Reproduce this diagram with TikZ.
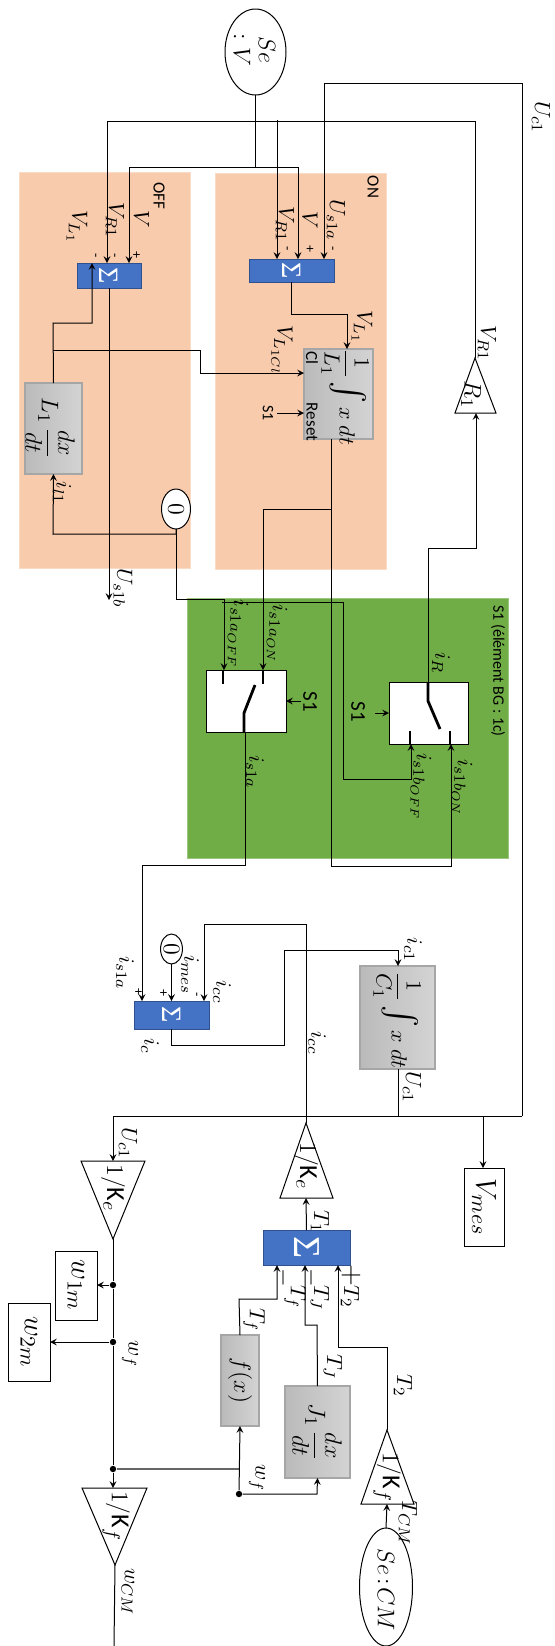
\documentclass[tikz,border=0pt]{standalone}
\usepackage{amsmath,amssymb}
\usepackage{graphicx}
\usepackage{fontspec}
\setmainfont{Carlito}
\newfontfamily\sumfont{Liberation Serif}
\usepackage{tikz}
\usetikzlibrary{shapes.geometric, arrows.meta, positioning, calc}
\definecolor{bloc}{HTML}{4472C4}
\definecolor{blocline}{HTML}{2F528F}
\definecolor{zone}{HTML}{F8CBAD}
\definecolor{zoneS}{HTML}{70AD47}
\DeclareMathSizes{11}{11}{8.5}{6.5}
\DeclareMathSizes{12}{12}{9}{7}
\DeclareMathSizes{13}{13}{10}{8}
\DeclareMathSizes{15}{15}{11}{9}
\newcommand{\fsz}[1]{\fontsize{#1}{#1}\selectfont}
\newcommand{\rt}[1]{\rotatebox{-90}{#1}}
\newcommand{\bigint}{\scalebox{1.5}{$\int$}}
\tikzset{
    lab/.style={rotate=-90, inner sep=0pt, font=\fsz{11}},
    sgn/.style={rotate=-90, inner sep=0pt, font=\fsz{7}},
    zonebox/.style={inner sep=0pt, outer sep=0pt, draw=#1!70!white, fill=#1, line width=0.4pt},
    sumbox/.style={draw=blocline, fill=bloc, inner sep=0pt, outer sep=0pt, text=white, font=\sumfont\fsz{14}, line width=0.4pt},
    grayblock/.style={draw=gray!70, left color=black!27, right color=black!17, inner sep=0pt, outer sep=0pt, line width=0.6pt, font=\fsz{12}},
    plainbox/.style={draw, fill=white, inner sep=0pt, outer sep=0pt, font=\fsz{15}},
    srcshape/.style={draw, ellipse, fill=white, inner sep=0pt, outer sep=0pt, font=\fsz{12}},
    junction/.style={circle, fill, inner sep=0pt, minimum size=3.2pt},
    blade/.style={line width=1.4pt}
}
\begin{document}
\begin{tikzpicture}[x=0.5pt, y=-0.5pt, >=stealth, line width=0.5pt]
    \useasboundingbox (0,0) rectangle (555,1646);
    % zones
    \node[zonebox=zone, minimum width=85.5pt, minimum height=198pt] (off) at (104.5,370) {};
    \node[zonebox=zone, minimum width=85.5pt, minimum height=198pt] (on) at (300.5,371) {};
    \node[zonebox=zoneS, minimum width=160.5pt, minimum height=130pt] (s1zone) at (347.5,728) {};
    \node[lab, font=\fsz{8.5}] (offtxt) at (159,196) {OFF};
    \node[lab, font=\fsz{8.5}] (ontxt) at (373,187) {ON};
    \node[lab, font=\fsz{8}] (s1txt) at (498,671) {S1 (élément BG : 1c)};
    % sources and blocks
    \node[srcshape, minimum width=30.5pt, minimum height=43pt] (se) at (255.5,52) {};
    \node[lab, font=\fsz{13}] (setxt) at (267,50) {$Se$};
    \node[lab, font=\fsz{13}] (vtxt) at (242,50) {$:V$};
    \node[sumbox, minimum width=32pt, minimum height=12.5pt] (soff) at (109,275.5) {\rt{Σ}};
    \node[sumbox, minimum width=42.5pt, minimum height=11.5pt] (son) at (291.5,270.5) {\rt{Σ}};
    \node[grayblock, minimum width=28.5pt, minimum height=45.5pt] (dl) at (53.5,428.5) {};
    \node[lab, font=\fsz{12}] (dltxt) at (50,428) {$L_1\,\dfrac{dx}{dt}$};
    \node[grayblock, minimum width=34.5pt, minimum height=45pt] (intl) at (338.5,394) {};
    \node[lab, font=\fsz{11}] (intltxt) at (345,397) {$\dfrac{1}{L_1}\,\bigint\, x\;dt$};
    \node[lab, font=\fsz{8.5}] (cltxt) at (312,358) {Cl};
    \node[lab, font=\fsz{8.5}] (rsttxt) at (312,422) {Reset};
    \node[srcshape, minimum width=14.5pt, minimum height=20pt] (zoff) at (176,509) {\rt{$0$}};
    \draw (455,413) -- (475,358) -- (496,413) -- cycle;
    \coordinate (rtop) at (475,358);
    \coordinate (rbot) at (476,413);
    \node[lab, font=\fsz{12}] (rtxt) at (471,395) {$R_1$};
    % switches
    \node[draw, fill=white, inner sep=0pt, outer sep=0pt, minimum width=40pt, minimum height=31pt] (swa) at (246,701) {};
    \node[draw, fill=white, inner sep=0pt, outer sep=0pt, minimum width=39.5pt, minimum height=31pt] (swb) at (428.5,713) {};
    \draw[blade] (223,670) -- (223,684);
    \draw[blade] (263,670) -- (263,684);
    \draw[blade] (244,732) -- (244,713) -- (255,685);
    \draw[blade] (428,682) -- (428,701) -- (440,729);
    \draw[blade] (410,744) -- (410,731);
    \draw[blade] (450,744) -- (450,731);
    \node[lab, font=\fsz{10.5}] (swaS) at (310,702) {S1};
    \node[lab, font=\fsz{10.5}] (swbS) at (358,712) {S1};
    \coordinate (swaSin) at (301,701);
    \coordinate (swbSin) at (375,713);
    \draw[->] (swaSin) -- (swa.east |- swaSin);
    \draw[->] (swbSin) -- (swb.west |- swbSin);
    % lower part
    \node[sumbox, minimum width=37.5pt, minimum height=14pt] (sc) at (171.5,1015) {\rt{Σ}};
    \node[srcshape, minimum width=10.5pt, minimum height=15pt] (zc) at (171.5,949) {\rt{$0$}};
    \node[grayblock, minimum width=37.5pt, minimum height=51.5pt] (intc) at (397.5,1017.5) {};
    \node[lab, font=\fsz{11}] (intctxt) at (397,1020) {$\dfrac{1}{C_1}\,\bigint\, x\;dt$};
    \node[sumbox, font=\sumfont\fsz{19}, minimum width=43.5pt, minimum height=17.5pt] (st) at (306.5,1247.5) {\rt{Σ}};
    \node[grayblock, minimum width=19pt, minimum height=45.5pt] (fb) at (240,1380.5) {\rt{$f(x)$}};
    \node[grayblock, minimum width=32.5pt, minimum height=46pt] (jb) at (317.5,1432) {};
    \node[lab, font=\fsz{12}] (jbtxt) at (317,1432) {$J_1\,\dfrac{dx}{dt}$};
    \node[plainbox, minimum width=20pt, minimum height=39pt] (vmes) at (484,1207) {\rt{$V_{mes}$}};
    \node[plainbox, minimum width=21pt, minimum height=34.5pt] (w1) at (76,1285.5) {\rt{$w_{1m}$}};
    \node[plainbox, minimum width=21pt, minimum height=39pt] (w2) at (29,1342) {\rt{$w_{2m}$}};
    \node[srcshape, minimum width=26.5pt, minimum height=59pt] (secm) at (386,1587) {};
    \node[lab, font=\fsz{12}] (secmtxt) at (386,1590) {$Se\!:\!CM$};
    \draw (81,1161) -- (145,1161) -- (113,1239) -- cycle;
    \draw (280,1198) -- (306,1123) -- (333,1198) -- cycle;
    \draw (82,1488) -- (147,1488) -- (115,1565) -- cycle;
    \draw (361,1504) -- (387,1430) -- (414,1504) -- cycle;
    \coordinate (kelt) at (113,1161);
    \coordinate (kelb) at (113,1239);
    \coordinate (kert) at (306,1123);
    \coordinate (kerb) at (306,1198);
    \coordinate (kflt) at (113,1488);
    \coordinate (kflb) at (115,1565);
    \coordinate (kfrt) at (387,1430);
    \coordinate (kfrb) at (387,1504);
    \node[lab, font=\fsz{13}] (keltxt) at (113,1188) {$1/\mathrm{K}_e$};
    \node[lab, font=\fsz{13}] (kertxt) at (306,1166) {$1/\mathrm{K}_e$};
    \node[lab, font=\fsz{13}] (kfltxt) at (116,1516) {$1/\mathrm{K}_f$};
    \node[lab, font=\fsz{13}] (kfrtxt) at (387,1477) {$1/\mathrm{K}_f$};
    % junctions
    \node[junction] (j1) at (113,1285) {};
    \node[junction] (j2) at (113,1342) {};
    \node[junction] (j3) at (113,1469) {};
    \node[junction] (j4) at (239,1494) {};
    \coordinate (vmid) at (255.5,167);
    % top wiring
    \draw (se.south) -- (vmid);
    \draw[->] (475,121) -- (107,121) -- (107,0 |- soff.north);
    \draw (475,121) -- (rtop);
    \draw[->] (vmid) -- (129,167) -- (129,0 |- soff.north);
    \draw[->] (vmid) -- (298,167) -- (298,0 |- son.north);
    \draw[->] (277,120) -- (277,0 |- son.north);
    \draw[->] (522,1116) -- (522,83) -- (324,83) -- (324,0 |- son.north);
    \draw[->] (son.south) -- (291.5,314) -- (347,314) -- (347,0 |- intl.north);
    \draw[->] (dl.north) -- (53,323) -- (92,323) -- (92,0 |- soff.north);
    \draw[->] (53,350) -- (200,350) -- (200,373) -- (intl.west |- 0,373);
    \coordinate (uout) at (109,600);
    \draw[->] (109,0 |- soff.south) -- (uout);
    \draw[->] (zoff.south) -- (176,534) -- (53,534) -- (dl.south);
    \coordinate (rstin) at (277,413);
    \draw[->] (rstin) -- (intl.west |- rstin);
    % switch wiring
    \draw[->] (zoff.south) -- (176,599) -- (224,599) -- (224,0 |- swa.north);
    \draw[->] (222,602) -- (343,602) -- (343,779) -- (411,779) -- (411,0 |- swb.south);
    \draw[->] (331,0 |- intl.south) -- (331,866) -- (451,866) -- (451,0 |- swb.south);
    \draw[->] (331,509) -- (263,509) -- (263,0 |- swa.north);
    \draw[->] (428,0 |- swb.north) -- (428,548) -- (476,548) -- (rbot);
    \draw[->] (245,0 |- swa.south) -- (245,865) -- (142,865) -- (142,0 |- sc.north);
    % lower wiring
    \draw[->] (zc.south) -- (sc.north);
    \draw[->] (kert) -- (306,924) -- (204,924) -- (204,0 |- sc.north);
    \draw[->] (sc.south) -- (171.5,1045) -- (284,1045) -- (284,950) -- (398,950) -- (398,0 |- intc.north);
    \draw (398,0 |- intc.south) -- (398,1116);
    \draw[->] (522,1116) -- (113,1116) -- (kelt);
    \draw[->] (483,1116) -- (483,0 |- vmes.north);
    \draw[->] (st.north) -- (kerb);
    \draw (kelb) -- (j1) -- (j2) -- (j3);
    \draw[->] (j1) -- (w1.east |- j1);
    \draw[->] (j2) -- (w2.east |- j2);
    \draw[->] (j3) -- (kflt);
    \draw (kflb) -- (114,1646);
    \draw[draw=black!60, line width=0.8pt] (j3) -- (239,1469);
    \draw[->] (j4) -- (fb.south);
    \draw[->] (j4) -- (317,1494) -- (jb.south);
    \draw[->] (fb.north) -- (239,1299) -- (277,1299) -- (277,0 |- st.south);
    \draw[->] (jb.north) -- (317,1325) -- (305,1325) -- (305,0 |- st.south);
    \draw[->] (kfrt) -- (387,1347) -- (338,1347) -- (338,0 |- st.south);
    \draw[->] (secm.north) -- (kfrb);
    % labels
    \node[lab] (l1) at (541,117) {$U_{c1}$};
    \node[lab] (l2) at (77,227) {$V_{L_1}$};
    \node[lab] (l3) at (115,220) {$V_{R1}$};
    \node[lab] (l4) at (141.5,219) {$V$};
    \node[lab] (l5) at (285,224) {$V_{R1}$};
    \node[lab] (l6) at (310,220) {$V$};
    \node[lab] (l7) at (336,220) {$U_{s1a}$};
    \node[sgn] (p1) at (94,256) {-};
    \node[sgn] (p2) at (113,256) {-};
    \node[sgn] (p3) at (136,255) {+};
    \node[sgn] (p4) at (285.5,249) {-};
    \node[sgn] (p5) at (309.5,249) {+};
    \node[sgn] (p6) at (331,249) {-};
    \node[lab] (l8) at (362,327) {$V_{L_1}$};
    \node[lab] (l9) at (282,350) {$V_{L_{1Cl}}$};
    \node[lab, font=\fsz{8}] (l10) at (268,413) {S1};
    \node[lab] (l11) at (62,493) {$i_{l1}$};
    \node[lab] (l12) at (123,588) {$U_{s1b}$};
    \node[lab] (l13) at (487,343) {$V_{R1}$};
    \node[lab] (l14) at (238,634) {$i_{s1a_{OFF}}$};
    \node[lab] (l15) at (277,634) {$i_{s1a_{ON}}$};
    \node[lab] (l16) at (255,772) {$i_{s1a}$};
    \node[lab] (l17) at (441,663) {$i_R$};
    \node[lab] (l18) at (421,787) {$i_{s1b_{OFF}}$};
    \node[lab] (l19) at (462,788) {$i_{s1b_{ON}}$};
    \node[lab] (l20) at (125,973) {$i_{s1a}$};
    \node[lab] (l21) at (190,975) {$i_{mes}$};
    \node[lab] (l22) at (222,992) {$i_{cc}$};
    \node[lab] (l23) at (150,1046) {$i_c$};
    \node[lab] (l24) at (317,1043) {$i_{cc}$};
    \node[lab] (l25) at (413,950) {$i_{c1}$};
    \node[lab] (l26) at (412,1087) {$U_{c1}$};
    \node[lab] (l27) at (128,1143) {$U_{c1}$};
    \node[sgn] (p7) at (138,992) {+};
    \node[sgn] (p8) at (163,993) {+};
    \node[sgn] (p9) at (195,995) {-};
    \node[lab] (l28) at (320,1222) {$T_1$};
    \node[lab] (l29) at (254,1320) {$T_f$};
    \node[lab, font=\fsz{13}] (p10) at (283,1278) {$-$};
    \node[lab] (l30) at (295,1297) {$T_f$};
    \node[lab, font=\fsz{13}] (p11) at (311,1278) {$-$};
    \node[lab] (l31) at (320,1298) {$T_J$};
    \node[lab] (l32) at (333,1367) {$T_J$};
    \node[lab, font=\fsz{15}] (p12) at (351,1275) {$+$};
    \node[lab] (l33) at (350,1297) {$T_2$};
    \node[lab] (l34) at (403,1386) {$T_2$};
    \node[lab] (l35) at (130,1354) {$w_f$};
    \node[lab] (l36) at (257,1478) {$w_f$};
    \node[lab] (l37) at (128,1592) {$w_{CM}$};
    \node[lab] (l38) at (408,1523) {$T_{CM}$};
\end{tikzpicture}
\end{document}
